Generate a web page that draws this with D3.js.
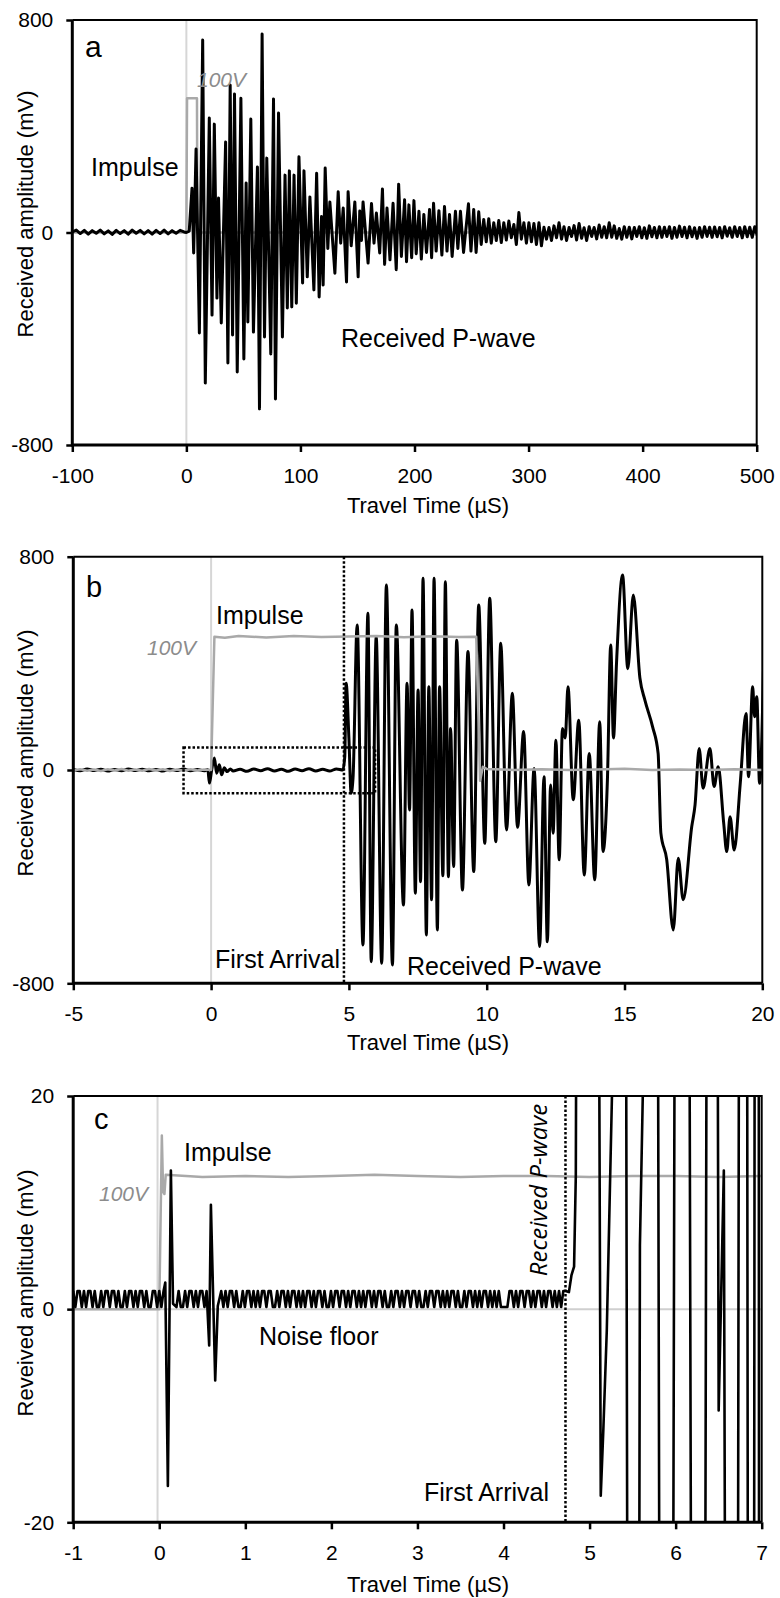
<!DOCTYPE html>
<html>
<head>
<meta charset="utf-8">
<script src="https://cdn.jsdelivr.net/npm/d3@7"></script>
<style>
  body { margin: 0; background: #fff; }
  svg { display: block; font-family: "Liberation Sans", Arial, sans-serif; }
</style>
</head>
<body>
<svg id="chart"></svg>
<script>
// ---------- panel a : full record ----------
const noiseAStart = -100, noiseAStep = 3.5;
const noiseA = [2, 9, -4, 8, -6, 7, -3, 9, -5, 6, -7, 8, -4, 7, -6, 9, -3, 8, -5, 7, -6, 8, -4, 9, -5, 7, -3, 8, 2];
const waveA = [
  [0, 0], [2.5, 5], [4.95, 167], [6.4, -77], [8.5, 314], [11.4, -378], [14.3, 725], [16.6, -567],
  [20.1, 431], [22.5, -311], [24.5, 408], [26.8, -247], [28.2, 130], [30.6, -341], [34.4, 341],
  [36.4, -491], [38.4, 555], [40.5, -386], [42.2, 521], [44.6, -525], [47.8, 505], [50.4, -476],
  [52.4, 186], [53.9, -337], [56.5, 427], [58.8, -375], [62.3, 247], [64.1, -664], [66.4, 747],
  [68.5, -393], [70.5, 280], [74, -457], [76.4, 503], [78.1, -627], [80.8, 450], [84.2, -393],
  [86.5, 216], [88.5, -284], [90.3, 232], [92.4, -280], [94.4, 216], [96.4, -266], [98.7, 285],
  [101.9, -190], [103.1, 232], [106, -167], [108.3, 134], [111.8, -216], [114.2, 223], [116.4, -243],
  [118.5, 60], [119.9, -198], [121.7, 243], [124, -60], [125.8, 115], [130.2, -153], [133.1, 153],
  [135.3, -40], [137.5, 92], [140.4, -186], [141.8, 153], [144.5, -50], [147.7, 115], [150.6, -167],
  [152, 81], [153.5, -30], [154.9, 115], [159.3, -115], [162.3, 109], [164.5, -40], [166.6, 73],
  [169.5, -77], [171.9, 164], [173.8, -120], [175.9, 92], [178.5, -103], [181.2, 110], [184, -140],
  [186.1, 182], [188.5, -90], [191.3, 123], [193, -110], [195.1, 104], [197.5, -95], [199.5, 120],
  [201.5, -80], [203.9, 80], [206, -100], [208.2, 68], [210.5, -75], [213.2, 87], [215, -95],
  [216.7, 110], [219, -70], [221.4, 82], [224, -85], [226.3, 98], [228.5, -70], [230.7, 68],
  [233, -90], [235.9, 80], [238, -60], [240.3, 80], [243, -75], [247.3, 108], [249.5, -70],
  [251.9, 87], [254, -75]
];
const tailAStart = 256.3, tailAStep = 2.2;
const tailA = [78, -45, 49, -35, 52, -40, 37, -30, 45, -38, 37, -28, 43, -20, 30, -45, 75, -25, 37, -40,
  37, -35, 34, -45, 37, -50, 20, -25, 19, -30, 25, -20, 37, -25, 22, -30, 19, -15, 26, -28,
  34, -22, 18, -30, 22, -15, 19, -24, 28, -18, 22, -20, 37, -18, 25, -22, 15, -25, 22, -18,
  20, -24, 19, -15, 22, -20, 18, -22, 25, -16, 19, -20, 22, -18, 20, -15, 22, -22, 19, -18,
  24, -15, 20, -20, 22, -16, 18, -22, 19, -18, 22, -15, 20, -18, 21, -16, 19, -20, 22, -14,
  18, -18, 22, -15, 19, -20, 22, -16, 20, -18, 22, -12, 10];
const impulseA = [[-100, 0], [0, 0], [0.6, 505], [9.3, 505], [9.6, 0], [500, 0]];

// ---------- panel b : first 20 us ----------
const noiseBStart = -5, noiseBStep = 0.25;
const noiseB = [2, -3, 4, -2, 3, -4, 2, -3, 4, -2, 3, -3, 2, -4, 3, -2, 4, -3, 2, -3];
const waveB1 = [[-0.12, 2], [-0.06, -49], [0.02, 0], [0.12, 45], [0.2, -12], [0.3, 20], [0.38, -18],
  [0.48, 8], [0.58, -6], [0.7, 4]];
const noiseB2Start = 0.8;
const noiseB2 = [-4, 3, -5, 4, -3, 5, -4, 3, -5, 4, -3, 5, -4, 3, -4, 4];
const waveB2 = [
  [4.78, 0], [4.85, 50], [4.9, 325], [5.0, 120], [5.08, -87], [5.15, -30], [5.3, 544], [5.51, -656],
  [5.69, 588], [5.81, -719], [5.99, 500], [6.19, -725], [6.36, 694], [6.58, -731], [6.72, 544],
  [6.98, -506], [7.11, 325], [7.2, -150], [7.29, 600], [7.41, -462], [7.51, 300], [7.6, -419],
  [7.69, 719], [7.81, -619], [7.9, 312], [8.0, -487], [8.09, 719], [8.21, -600], [8.29, 312],
  [8.41, -397], [8.5, 706], [8.61, -400], [8.69, 156], [8.8, -362], [8.91, 487], [9.12, -450],
  [9.32, 444], [9.53, -381], [9.71, 619], [9.93, -275], [10.11, 644], [10.33, -269], [10.51, 475],
  [10.72, -225], [10.93, 288], [11.12, -215], [11.34, 144], [11.53, -431], [11.72, 6], [11.92, -662],
  [12.08, -25], [12.2, -644], [12.32, -56], [12.41, -237], [12.51, 112], [12.63, -337], [12.75, 156],
  [12.85, 120], [12.95, 312], [13.14, -112], [13.34, 187], [13.54, -394], [13.72, 62], [13.92, -412],
  [14.1, 181], [14.22, -306], [14.38, -37], [14.5, 469], [14.6, 120], [14.71, 400], [14.93, 731],
  [15.12, 380], [15.32, 656], [15.56, 344], [15.74, 262], [16.02, 162], [16.22, 62], [16.32, -237],
  [16.53, -335], [16.77, -600], [16.95, -331], [17.13, -487], [17.44, -212], [17.56, -131],
  [17.71, 81], [17.85, -68], [18.1, 81], [18.25, -62], [18.4, 12], [18.6, -200], [18.71, -306],
  [18.83, -175], [18.98, -300], [19.2, -50], [19.41, 212], [19.5, -25], [19.65, 312], [19.72, 200],
  [19.8, 275], [19.9, -50], [20.05, 406]
];
const impulseNoiseB = [-2, 3, -3, 2, -4, 3, -2, 4, -3, 2, -3, 4, -2, 3, -4, 2, -3, 3, -2, 2];
const impulseB = [[0, 0], [0.12, 500], [0.5, 496], [1, 503], [2, 497], [3, 503], [4, 499], [5, 501],
  [6, 503], [7, 498], [8, 502], [9, 499], [9.62, 500], [9.7, 200], [9.76, -40], [9.86, 12], [10, 4],
  [11, 0], [12, 3], [13, 0], [14, 2], [15, 5], [16, 0], [17, 2], [18, 0], [19, 3], [20, 0]];

// ---------- panel c : first 7 us, +/-20 mV ----------
// digitiser noise toggles between two levels (mV); bits pick the level
const noiseLevels = [0.2, 1.7];
const noiseCStep = 0.025;
const noiseC1Start = -1;
const noiseC1 = "1011010110100101101101001011010110100110101";
const noiseC2Start = 0.2;
const noiseC2 = "010010110101101";
const noiseC3Start = 0.72;
const noiseC3 =
  "1010110100" + "1011010101" + "1011001011" + "0101101010" + "1101011010" + "0101101101" +
  "0110101011" + "0101101001" + "0110101101" + "1010010110" + "1101010110" + "1001011010" +
  "1011010101" + "0000110101" + "1011010110" + "1011010101" + "1";
const eventC1 = [[0.07, 2.5], [0.1, -16.6], [0.135, 13], [0.16, 0.5]];
const eventC2 = [[0.58, -3.4], [0.6, 9.8], [0.65, -6.7], [0.68, 0.3]];
const arrivalC = [
  [4.76, 1.6], [4.79, 3.2], [4.82, 4.0], [4.84, 12.5], [4.97, 350], [5.13, -17.5], [5.16, -11.3],
  [5.2, -2], [5.26, 20], [5.34, 350], [5.51, -300], [5.585, 6], [5.63, 25], [5.71, 320],
  [5.89, -300], [6.07, 300], [6.27, -300], [6.42, 250], [6.5, -9.5], [6.56, 13], [6.67, -300],
  [6.79, 300], [6.88, -300], [6.95, 300], [6.985, -300], [7.05, 300]
];
const impulseC = [[-1, 0], [0, 0], [0.03, 16.3], [0.045, 11], [0.06, 10.8], [0.075, 12.6], [0.5, 12.4],
  [1, 12.5], [1.5, 12.4], [2, 12.5], [2.5, 12.6], [3, 12.5], [3.5, 12.4], [4, 12.5], [4.5, 12.5],
  [5, 12.4], [5.5, 12.5], [6, 12.5], [6.5, 12.4], [7, 12.5]];

// marker lines
const firstArrivalB = 4.82, firstArrivalC = 4.72;
const zoomBoxBT = [-1, 5.95], zoomBoxBV = [-87, 84];

const seq = (start, step, vals) => vals.map((v, i) => [start + i * step, v]);
const bits = s => s.split("").map(c => noiseLevels[+c]);

const blackA = [...seq(noiseAStart, noiseAStep, noiseA), ...waveA, ...seq(tailAStart, tailAStep, tailA)];
const blackB = [...seq(noiseBStart, noiseBStep, noiseB), ...waveB1, ...seq(noiseB2Start, noiseBStep, noiseB2), ...waveB2];
const grayB = [...seq(noiseBStart, noiseBStep, impulseNoiseB), ...impulseB];
const blackC = [...seq(noiseC1Start, noiseCStep, bits(noiseC1)), ...eventC1,
  ...seq(noiseC2Start, noiseCStep, bits(noiseC2)), ...eventC2,
  ...seq(noiseC3Start, noiseCStep, bits(noiseC3)), ...arrivalC];

const W = 780, H = 1598;
const svg = d3.select("#chart").attr("width", W).attr("height", H);

const panels = [
  {
    id: "a", left: 72.3, right: 756.7, top: 20, bottom: 445,
    xDomain: [-100, 500], yDomain: [-800, 800],
    xTicks: [-100, 0, 100, 200, 300, 400, 500], yTicks: [-800, 0, 800],
    black: blackA, gray: impulseA, grayOnTop: false, curve: d3.curveLinear, spikeT: 0,
    yTitle: "Received amplitude (mV)", yTitleY: 214, xTitleY: 513,
    labels: [
      { t: "a", x: 85, y: 57, size: 30 },
      { t: "Impulse", x: 91, y: 176, size: 25 },
      { t: "Received P-wave", x: 341, y: 347, size: 25 },
      { t: "100V", x: 197, y: 87, size: 21, gray: true }
    ]
  },
  {
    id: "b", left: 73.3, right: 762.3, top: 556.7, bottom: 983.3,
    xDomain: [-5, 20], yDomain: [-800, 800],
    xTicks: [-5, 0, 5, 10, 15, 20], yTicks: [-800, 0, 800],
    black: blackB, gray: grayB, grayOnTop: true, curve: d3.curveMonotoneX, spikeT: 0,
    vline: firstArrivalB, box: true,
    yTitle: "Received amplitude (mV)", yTitleY: 753, xTitleY: 1050,
    labels: [
      { t: "b", x: 86, y: 597, size: 29 },
      { t: "Impulse", x: 216, y: 624, size: 25 },
      { t: "100V", x: 147, y: 655, size: 21, gray: true },
      { t: "First Arrival", x: 215, y: 968, size: 25 },
      { t: "Received P-wave", x: 407, y: 975, size: 25 }
    ]
  },
  {
    id: "c", left: 73.2, right: 761.7, top: 1096, bottom: 1522.3,
    xDomain: [-1, 7], yDomain: [-20, 20],
    xTicks: [-1, 0, 1, 2, 3, 4, 5, 6, 7], yTicks: [-20, 0, 20],
    black: blackC, gray: impulseC, grayOnTop: false, curve: d3.curveLinear, spikeT: -0.02,
    vline: firstArrivalC, zeroLine: true,
    yTitle: "Reveived amplitude (mV)", yTitleY: 1293, xTitleY: 1592,
    labels: [
      { t: "c", x: 94, y: 1129, size: 29 },
      { t: "Impulse", x: 184, y: 1161, size: 25 },
      { t: "100V", x: 99, y: 1201, size: 21, gray: true },
      { t: "Noise floor", x: 259, y: 1345, size: 25 },
      { t: "First Arrival", x: 424, y: 1501, size: 25 }
    ]
  }
];

function drawPanel(p) {
  const x = d3.scaleLinear().domain(p.xDomain).range([p.left, p.right]);
  const y = d3.scaleLinear().domain(p.yDomain).range([p.bottom, p.top]);
  const g = svg.append("g").attr("class", "panel-" + p.id);

  svg.append("clipPath").attr("id", "clip-" + p.id)
    .append("rect")
    .attr("x", p.left).attr("y", p.top)
    .attr("width", p.right - p.left).attr("height", p.bottom - p.top);

  const plot = g.append("g").attr("clip-path", `url(#clip-${p.id})`);
  const line = d3.line().x(d => x(d[0])).y(d => y(d[1])).curve(p.curve);

  // light vertical trace of the impulse spike (off scale)
  plot.append("line")
    .attr("x1", x(p.spikeT)).attr("x2", x(p.spikeT))
    .attr("y1", p.top).attr("y2", p.bottom)
    .attr("stroke", "#d6d6d6").attr("stroke-width", 2);

  if (p.zeroLine) {
    plot.append("line")
      .attr("x1", p.left).attr("x2", p.right)
      .attr("y1", y(0)).attr("y2", y(0))
      .attr("stroke", "#cfcfcf").attr("stroke-width", 2);
  }

  const drawGray = () => plot.append("path").datum(p.gray)
    .attr("d", d3.line().x(d => x(d[0])).y(d => y(d[1])))
    .attr("fill", "none").attr("stroke", "#a9a9a9").attr("stroke-width", 2.5)
    .attr("stroke-linejoin", "round");

  if (!p.grayOnTop) drawGray();
  plot.append("path").datum(p.black)
    .attr("d", line)
    .attr("fill", "none").attr("stroke", "#000")
    .attr("stroke-width", p.id === "c" ? 2.6 : 3)
    .attr("stroke-linejoin", "round");
  if (p.grayOnTop) drawGray();

  // dotted markers
  if (p.vline !== undefined) {
    g.append("line")
      .attr("x1", x(p.vline)).attr("x2", x(p.vline))
      .attr("y1", p.top).attr("y2", p.bottom)
      .attr("stroke", "#000").attr("stroke-width", 2.5).attr("stroke-dasharray", "2.5,2");
  }
  if (p.box) {
    g.append("rect")
      .attr("x", x(zoomBoxBT[0])).attr("y", y(zoomBoxBV[1]))
      .attr("width", x(zoomBoxBT[1]) - x(zoomBoxBT[0]))
      .attr("height", y(zoomBoxBV[0]) - y(zoomBoxBV[1]))
      .attr("fill", "none").attr("stroke", "#000")
      .attr("stroke-width", 2.5).attr("stroke-dasharray", "2.5,2");
  }

  // frame
  g.append("path")
    .attr("d", `M${p.left},${p.top}H${p.right}V${p.bottom}`)
    .attr("fill", "none").attr("stroke", "#000").attr("stroke-width", 2);
  g.append("path")
    .attr("d", `M${p.left},${p.top}V${p.bottom}H${p.right}`)
    .attr("fill", "none").attr("stroke", "#000").attr("stroke-width", 3);

  // axes
  const xAxis = g.append("g")
    .attr("transform", `translate(0,${p.bottom})`)
    .call(d3.axisBottom(x).tickValues(p.xTicks).tickSize(7).tickPadding(16)
      .tickFormat(d => String(d)));
  const yAxis = g.append("g")
    .attr("transform", `translate(${p.left},0)`)
    .call(d3.axisLeft(y).tickValues(p.yTicks).tickSize(6).tickPadding(13)
      .tickFormat(d => String(d)));
  [xAxis, yAxis].forEach(ax => {
    ax.select(".domain").remove();
    ax.selectAll(".tick line").attr("stroke", "#000").attr("stroke-width", 2.5);
    ax.selectAll(".tick text")
      .attr("fill", "#000")
      .style("font-size", "21px")
      .style("font-family", "'Liberation Sans', Arial, sans-serif");
  });

  // titles
  g.append("text")
    .attr("x", 428).attr("y", p.xTitleY)
    .attr("text-anchor", "middle")
    .style("font-size", "22px")
    .text("Travel Time (µS)");
  g.append("text")
    .attr("transform", `translate(25,${p.yTitleY}) rotate(-90)`)
    .attr("dy", "0.35em")
    .attr("text-anchor", "middle")
    .style("font-size", "22px")
    .text(p.yTitle);

  p.labels.forEach(l => {
    g.append("text")
      .attr("x", l.x).attr("y", l.y)
      .attr("fill", l.gray ? "#8c8c8c" : "#000")
      .style("font-size", l.size + "px")
      .style("font-style", l.gray ? "italic" : "normal")
      .text(l.t);
  });
}

panels.forEach(drawPanel);

// rotated label beside the first arrival in panel c
svg.append("text")
  .attr("transform", "translate(547,1190) rotate(-90)")
  .attr("text-anchor", "middle")
  .style("font-family", "'Open Sans', sans-serif")
  .style("font-style", "italic")
  .style("font-size", "24px")
  .text("Received P-wave");
</script>
</body>
</html>
